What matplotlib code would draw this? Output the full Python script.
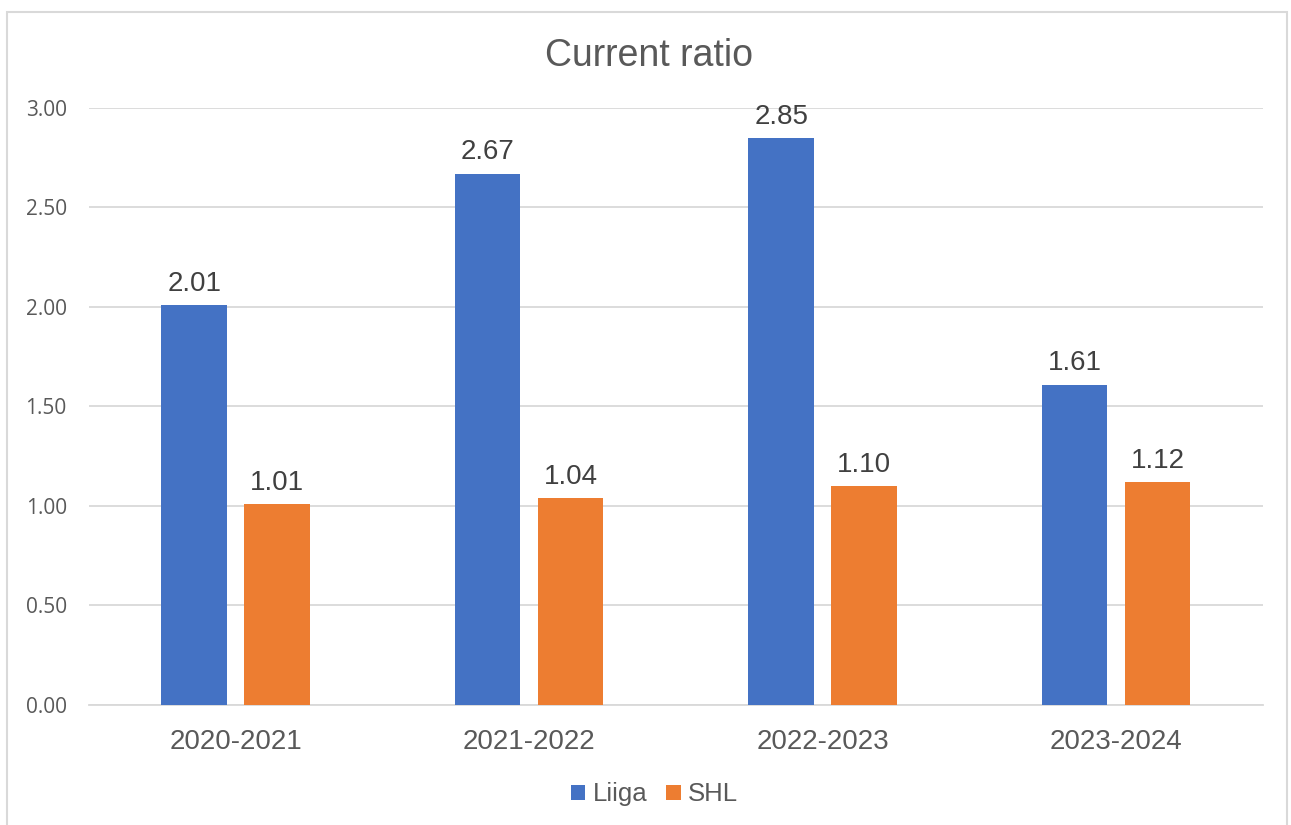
import numpy as np
import matplotlib.pyplot as plt
from matplotlib.patches import Rectangle

# Current ratio per season
seasons = ['2020-2021', '2021-2022', '2022-2023', '2023-2024']
liiga = [2.01, 2.67, 2.85, 1.61]
shl = [1.01, 1.04, 1.10, 1.12]

blue = '#4472c4'
orange = '#ed7d31'
grey = '#595959'

fig = plt.figure(figsize=(12.91, 8.25), dpi=100)
ax = fig.add_axes([0.0689, 0.1455, 0.9094, 0.7236])

x = np.arange(len(seasons))
w = 0.223
off = 0.1414
b1 = ax.bar(x - off, liiga, w, color=blue, label='Liiga', zorder=3)
b2 = ax.bar(x + off, shl, w, color=orange, label='SHL', zorder=3)

# data labels above bars
for bars, vals in [(b1, liiga), (b2, shl)]:
    for b, v in zip(bars, vals):
        ax.annotate('{0:.2f}'.format(v), (b.get_x() + b.get_width() / 2, v),
                    xytext=(0, 6), textcoords='offset points', ha='center', va='bottom',
                    fontsize=20, color='#404040', family='Liberation Sans')

ax.set_xlim(-0.5, 3.5)
ax.set_ylim(0, 3)
ax.set_yticks(np.arange(0, 3.01, 0.5))
ax.set_yticklabels(['{0:.2f}'.format(t) for t in np.arange(0, 3.01, 0.5)],
                   family='Open Sans', fontsize=15, color=grey)
ax.set_xticks(x)
ax.set_xticklabels(seasons, family='Liberation Sans', fontsize=20, color=grey)
ax.tick_params(axis='both', length=0)
ax.tick_params(axis='y', pad=16)
ax.tick_params(axis='x', pad=17)
ax.grid(axis='y', color='#d9d9d9', linewidth=1.3, zorder=0)
for s in ['top', 'right', 'left']:
    ax.spines[s].set_visible(False)
ax.spines['bottom'].set_color('#d9d9d9')
ax.spines['bottom'].set_linewidth(1.3)

fig.text(0.503, 0.932, 'Current ratio', ha='center', va='center',
         fontsize=27, color=grey, family='Liberation Sans')

fig.legend(handles=[b1, b2], loc='center', bbox_to_anchor=(0.507, 0.037), ncol=2,
           frameon=False, prop={'family': 'Liberation Sans', 'size': 18.5},
           labelcolor=grey, handlelength=0.55, handleheight=0.55,
           handletextpad=0.28, columnspacing=0.75)

# chart area border
fig.patches.append(Rectangle((7 / 1291, -0.05), 1280 / 1291, 1.05 - 12 / 825,
                             transform=fig.transFigure, fill=False,
                             edgecolor='#d9d9d9', linewidth=1.5))

plt.savefig('out.png', dpi=100)
plt.close()
